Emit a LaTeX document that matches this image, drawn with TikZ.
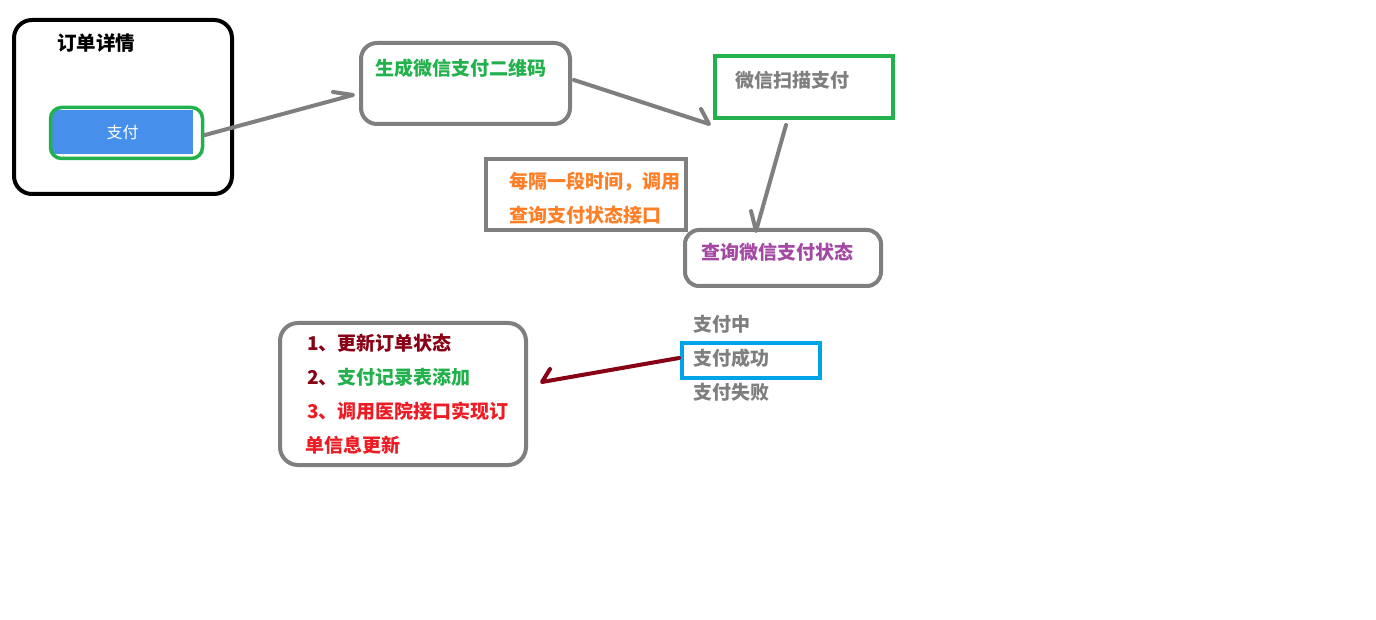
\documentclass[tikz,border=0pt]{standalone}
\usepackage{fontspec}
\setmainfont{Noto Sans CJK SC}
\usetikzlibrary{positioning}
\definecolor{cgray}{HTML}{7F7F7F}
\definecolor{cgreen}{HTML}{22B14C}
\definecolor{cblue}{HTML}{4690EC}
\definecolor{cskyblue}{HTML}{00A2E8}
\definecolor{corange}{HTML}{FF7F27}
\definecolor{cpurple}{HTML}{A349A4}
\definecolor{cdarkred}{HTML}{880015}
\definecolor{cred}{HTML}{ED1C24}
\tikzset{
  frame/.style={draw, line width=4pt, inner sep=0pt, minimum width=#1},
  gbox/.style={frame=#1, draw=cgray},
  lbl/.style={anchor=west, inner sep=0pt, font=\fontsize{19}{20}\selectfont\bfseries},
  conn/.style={draw=cgray, line width=4pt, line cap=round, line join=round},
}
\begin{document}
\begin{tikzpicture}[x=1pt,y=-1pt]
\useasboundingbox[fill=white] (0,0) rectangle (1376,620);
% boxes
\node[frame=218pt, draw=black, minimum height=174pt, rounded corners=18pt] (order) at (123,107) {};
\node[fill=cblue, inner sep=0pt, minimum width=141pt, minimum height=44pt] (paybtn) at (122.5,132) {};
\node[frame=152pt, draw=cgreen, line width=3.5pt, minimum height=51pt, rounded corners=11pt] (payring) at (126.5,133) {};
\node[gbox=209pt, minimum height=81pt, rounded corners=16pt] (qr) at (465.5,83.5) {};
\node[frame=178pt, draw=cgreen, minimum height=62pt] (scan) at (804,87) {};
\node[gbox=200pt, minimum height=71pt] (interval) at (586,194.5) {};
\node[gbox=196pt, minimum height=56pt, rounded corners=14pt] (query) at (783,258) {};
\node[frame=138pt, draw=cskyblue, minimum height=35pt] (success) at (751,360.5) {};
\node[gbox=246pt, minimum height=142pt, rounded corners=18pt] (result) at (403,394) {};
% texts
\node[lbl, text=black, font=\fontsize{19.5}{20}\selectfont\bfseries] (t-order) at (57,43) {订单详情};
\node[inner sep=0pt, text=white, font=\fontsize{16}{18}\selectfont] (t-pay) at (paybtn.center) {支付};
\node[lbl, text=cgreen] (t-qr) at (375,68) {生成微信支付二维码};
\node[lbl, text=cgray] (t-scan) at (735,80) {微信扫描支付};
\node[lbl, text=corange] (t-int1) at (509,182) {每隔一段时间，调用};
\node[lbl, text=corange] (t-int2) at (509,215) {查询支付状态接口};
\node[lbl, text=cpurple] (t-query) at (701,252) {查询微信支付状态};
\node[lbl, text=cgray] (t-s1) at (693,324) {支付中};
\node[lbl, text=cgray] (t-s2) at (693,358) {支付成功};
\node[lbl, text=cgray] (t-s3) at (693,392) {支付失败};
\node[lbl, text=cdarkred] (t-r1) at (307,343) {1、更新订单状态};
\node[lbl, text=cdarkred] (t-r2) at (307,377) {2、\textcolor{cgreen}{支付记录表添加}};
\node[lbl, text=cred] (t-r3) at (307,411) {3、调用医院接口实现订};
\node[lbl, text=cred] (t-r4) at (305,445) {单信息更新};
% connector end points
\coordinate (a1s) at (205,135); \coordinate (a1t) at (353,95); \coordinate (a1b) at (333,92);
\coordinate (a2s) at (574,80);  \coordinate (a2t) at (709,124); \coordinate (a2b) at (701,109);
\coordinate (a3s) at (786,125); \coordinate (a3t) at (756,231); \coordinate (a3b) at (751,211);
\coordinate (a4s) at (679,358); \coordinate (a4t) at (542,382); \coordinate (a4b) at (550,369);
% connectors
\draw[conn] (a1s) -- (a1t) -- (a1b);
\draw[conn] (a2s) -- (a2t) -- (a2b);
\draw[conn] (a3s) -- (a3t) -- (a3b);
\draw[conn, draw=cdarkred] (a4s) -- (a4t) -- (a4b);
\end{tikzpicture}
\end{document}
